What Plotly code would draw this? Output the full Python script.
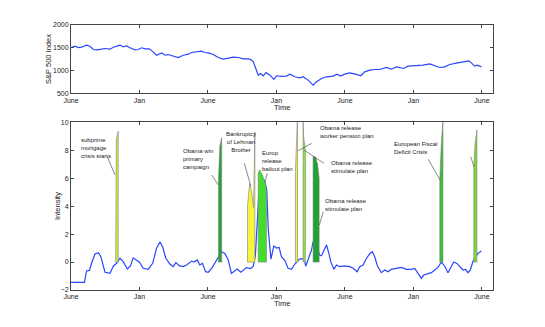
import plotly.graph_objects as go

# time axis: weeks since June 2007, ticks every half year
tick_weeks = [0, 26, 52, 78, 104, 130, 156]
tick_text = ['June', 'Jan', 'June', 'Jan', 'June', 'Jan', 'June']
x_max = 160.2

# S&P 500 index
sp_week = [0, 1.5, 2.8, 4.0, 5.9, 7.2, 8.5, 9.7, 11.6, 12.9, 14.8, 16.1, 18.0, 18.6, 19.8, 21.1,
           22.4, 24.3, 25.5, 26.8, 28.1, 29.7, 31.2, 32.5, 34.4, 35.7, 36.9, 38.8, 40.7, 42.6, 44.5,
           45.8, 47.7, 49.6, 50.8, 52.1, 54.0, 55.9, 57.8, 59.7, 61.6, 63.5, 65.4, 67.3, 68.3, 69.2,
           70.2, 71.1, 71.9, 73.0, 74.0, 75.5, 77.0, 78.0, 79.9, 81.8, 83.1, 85.0, 86.9, 88.1, 90.0,
           91.9, 93.2, 95.1, 97.0, 99.5, 101.0, 102.3, 103.9, 105.8, 108.4, 110.0, 111.5, 113.4,
           115.3, 117.2, 119.7, 121.6, 123.5, 124.8, 126.3, 127.9, 131.1, 133.6, 136.2, 138.1,
           140.0, 141.9, 143.8, 146.3, 148.8, 151.0, 152.0, 153.2, 154.2, 155.8]
sp_index = [1506, 1534, 1506, 1513, 1556, 1534, 1462, 1455, 1470, 1484, 1470, 1513, 1548, 1560,
            1520, 1540, 1500, 1455, 1462, 1500, 1477, 1477, 1410, 1337, 1388, 1337, 1352, 1315,
            1287, 1337, 1360, 1396, 1410, 1425, 1396, 1388, 1352, 1287, 1250, 1265, 1294, 1287,
            1257, 1257, 1240, 1191, 1046, 900, 937, 886, 959, 900, 806, 886, 871, 878, 922, 864,
            842, 864, 791, 681, 754, 827, 864, 878, 922, 878, 922, 951, 915, 886, 973, 1009, 1024,
            1024, 1068, 1031, 1082, 1068, 1046, 1097, 1104, 1119, 1148, 1104, 1068, 1082, 1133,
            1163, 1185, 1214, 1170, 1097, 1119, 1082]

# intensity series
int_week = [0, 5.1, 5.9, 7.0, 7.8, 9.1, 10.4, 11.3, 12.9, 14.8, 16.1, 17.3, 18.6, 19.8, 21.4,
            22.6, 23.6, 24.9, 25.9, 27.4, 29.3, 31.0, 32.5, 33.8, 34.8, 36.0, 37.6, 38.8, 39.8,
            41.1, 42.6, 43.9, 45.8, 46.7, 47.9, 48.9, 49.9, 51.1, 52.1, 53.4, 54.6, 55.9, 57.2,
            58.4, 59.7, 60.9, 63.1, 64.5, 65.6, 66.6, 68.2, 69.2, 70.0, 70.6, 71.2, 72.5, 73.5,
            74.3, 74.9, 75.9, 77.0, 78.0, 79.0, 79.9, 81.2, 82.4, 83.7, 85.0, 86.6, 87.5, 88.5,
            89.1, 90.0, 91.3, 91.9, 93.0, 94.4, 95.1, 96.1, 97.0, 97.9, 98.6, 99.8, 100.8, 102.0,
            103.9, 105.8, 107.1, 108.6, 109.6, 110.9, 112.1, 113.4, 114.4, 115.3, 116.2, 117.8,
            119.1, 120.4, 121.6, 123.5, 125.4, 127.3, 129.2, 130.5, 131.7, 133.0, 133.9, 135.5,
            136.8, 138.1, 139.3, 140.6, 141.9, 143.1, 144.4, 145.3, 146.5, 147.5, 148.8, 149.8,
            150.7, 151.6, 152.6, 154.5, 155.8]
int_value = [-1.45, -1.45, -0.64, -0.6, -0.09, 0.58, 0.67, 0.4, -0.73, -0.8, -0.28, -0.09, 0.27,
             0.03, -0.5, -0.26, 0.3, 0.15, 0.0, -0.45, -0.52, -0.09, 1.0, 1.43, 1.07, 0.27, -0.16,
             -0.33, -0.04, -0.26, -0.33, -0.21, 0.07, 0.0, 0.15, -0.21, -0.09, -0.69, -0.73, -0.45,
             -0.09, 0.27, 0.74, 0.62, 0.15, -0.81, -0.5, -0.73, -0.57, -0.4, -0.47, -0.3, 0.5, 2.5,
             4.5, 6.0, 5.8, 5.2, 2.3, 0.2, 1.15, 1.0, 1.05, 0.38, 0.1, -0.45, -0.52, -0.14, 0.2,
             0.24, 0.2, -0.3, 0.2, 0.86, 1.46, 1.2, 0.5, 0.45, 0.86, 1.22, 0.62, 0.03, -0.52, -0.21,
             -0.33, -0.28, -0.33, -0.45, -0.69, -0.33, -0.21, 0.24, 0.6, 0.74, 0.38, -0.21, -0.76,
             -0.57, -0.69, -0.52, -0.45, -0.38, -0.52, -0.52, -0.45, -0.81, -1.17, -0.93, -0.86,
             -0.76, -0.57, -0.38, 0.0, -0.3, -0.76, -0.33, 0.0, -0.1, -0.33, -0.57, -0.52, -0.76,
             -0.57, 0.05, 0.62, 0.79]

# event intensity areas (weeks, top values)
ev_subprime_w = [16.95, 17.2, 17.94]
ev_subprime_v = [8.0, 8.8, 9.35]
ev_obama_w = [56.0, 56.5, 57.2]
ev_obama_v = [6.0, 8.3, 8.9]
ev_lehman_w = [67.0, 67.8, 68.6, 69.3, 69.7, 69.8]
ev_lehman_v = [4.0, 5.6, 5.0, 3.9, 9.3, 9.3]
ev_europ_w = [71.05, 71.6, 72.5, 73.5, 74.2]
ev_europ_v = [6.35, 6.6, 6.3, 5.8, 5.3]
ev_pension_w = [85.2, 85.6, 86.0]
ev_pension_v = [6.5, 8.5, 10.8]
ev_stim1_w = [88.1, 88.3, 89.0]
ev_stim1_v = [10.5, 9.0, 8.0]
ev_stim2_w = [91.9, 92.9, 93.6, 94.2]
ev_stim2_v = [7.55, 7.5, 7.0, 6.0]
ev_fiscal_w = [140.0, 140.6, 141.2]
ev_fiscal_v = [5.9, 8.5, 10.2]
ev_imf_w = [152.9, 153.4, 154.1]
ev_imf_v = [6.8, 8.5, 9.45]

events = [
	(ev_subprime_w, ev_subprime_v, '#c8f03c'),
	(ev_obama_w, ev_obama_v, '#22a534'),
	(ev_lehman_w, ev_lehman_v, '#f5f53c'),
	(ev_europ_w, ev_europ_v, '#44dd2e'),
	(ev_pension_w, ev_pension_v, '#e2f53c'),
	(ev_stim1_w, ev_stim1_v, '#8fe836'),
	(ev_stim2_w, ev_stim2_v, '#20a233'),
	(ev_fiscal_w, ev_fiscal_v, '#35c233'),
	(ev_imf_w, ev_imf_v, '#7ed834'),
]

# label text, left x px, first line y px, align, leader line (x0,y0,x1,y1) px (page coords)
labels = [
	('subprime<br>mortgage<br>crisis starts', 79, 140, 'left', (107.3, 156.7, 115, 175)),
	('Obama win<br>primary<br>campaign', 181, 151, 'left', (211.7, 175, 218.3, 185)),
	('Bankruptcy<br>of Lehman<br>Brother', 224, 134, 'center', (244.3, 163.3, 251, 186.7)),
	('Europ<br>release<br>bailout plan', 260, 153, 'left', (267.3, 173.3, 265, 181.7)),
	('Obama release<br>worker pension plan', 317, 128, 'left', (311.7, 143.3, 298.3, 150.7)),
	('Obama release<br>stimulate plan', 329, 163, 'left', (324, 163.3, 304, 150)),
	('Obama release<br>stimulate plan', 323, 201, 'left', (323.3, 211.7, 319.3, 225)),
	('European Fiscal<br>Deficit Crisis', 392, 144, 'left', (428.3, 159.3, 440, 180)),
	('EU and IMU<br>Release<br>the the<br>bailout plan', 444, 126, 'left', (470.7, 156.7, 474, 166.7)),
]

# page has an 8px body margin, figure sized to fit inside the window
OFF = 8
W, H = 529, 311
L, R, T, B = 63, 44, 17, 29
pw = W - L - R
ph = H - T - B
x_left = OFF + L
y_bottom = OFF + T + ph
font = 'Liberation Sans, Arial, sans-serif'


def wx(px):
	return (px - x_left) / pw * x_max


def iy(py):
	return -2 + (y_bottom - py) / (ph * 0.633) * 12


fig = go.Figure()
fig.add_trace(go.Scatter(x=sp_week, y=sp_index, mode='lines',
                         line=dict(color='#2846ff', width=1.2), xaxis='x', yaxis='y'))
fig.add_trace(go.Scatter(x=int_week, y=int_value, mode='lines',
                         line=dict(color='#2846ff', width=1.2), xaxis='x2', yaxis='y2'))
for w, v, c in events:
	xs = [w[0]] + w + [w[-1], w[0]]
	ys = [0] + v + [0, 0]
	fig.add_trace(go.Scatter(x=xs, y=ys, mode='lines', fill='toself', fillcolor=c,
	                         line=dict(color='#808080', width=0.6), xaxis='x2', yaxis='y2'))

for text, lx, ly, al, (x0, y0, x1, y1) in labels:
	fig.add_annotation(x=wx(lx), y=iy(ly - 5), xref='x2', yref='y2', text=text, showarrow=False,
	                   xanchor='left', yanchor='top', align=al,
	                   font=dict(family=font, size=6, color='#222'))
	fig.add_shape(type='line', xref='x2', yref='y2', x0=wx(x0), y0=iy(y0), x1=wx(x1), y1=iy(y1),
	              line=dict(color='#555', width=0.7))

axis_common = dict(showline=True, linecolor='#444', linewidth=1, mirror='ticks', ticks='inside',
                   ticklen=3, tickcolor='#444', showgrid=False, zeroline=False,
                   tickfont=dict(family=font, size=7, color='#222'))

fig.update_layout(
	width=W, height=H, showlegend=False,
	margin=dict(l=L, r=R, t=T, b=B),
	paper_bgcolor='white', plot_bgcolor='white',
	xaxis=dict(domain=[0, 1], range=[0, x_max], anchor='y', tickvals=tick_weeks,
	           ticktext=tick_text, **axis_common),
	yaxis=dict(domain=[0.742, 1], range=[500, 2000], tickvals=[500, 1000, 1500, 2000],
	           anchor='x', **axis_common),
	xaxis2=dict(domain=[0, 1], range=[0, x_max], anchor='y2', tickvals=tick_weeks,
	            ticktext=tick_text, **axis_common),
	yaxis2=dict(domain=[0, 0.633], range=[-2, 10], tickvals=[-2, 0, 2, 4, 6, 8, 10],
	            anchor='x2', **axis_common),
)

titles = [('S&P 500 Index', 49, 59, -90), ('Intensity', 57, 206, -90),
          ('Time', 282, 107, 0), ('Time', 282, 303, 0)]
for text, px, py, ang in titles:
	fig.add_annotation(x=(px - x_left) / pw, y=(y_bottom - py) / ph, xref='paper', yref='paper',
	                   text=text, showarrow=False, textangle=ang, xanchor='center',
	                   yanchor='middle', font=dict(family=font, size=7.5, color='#222'))

fig.write_html('out.html')
